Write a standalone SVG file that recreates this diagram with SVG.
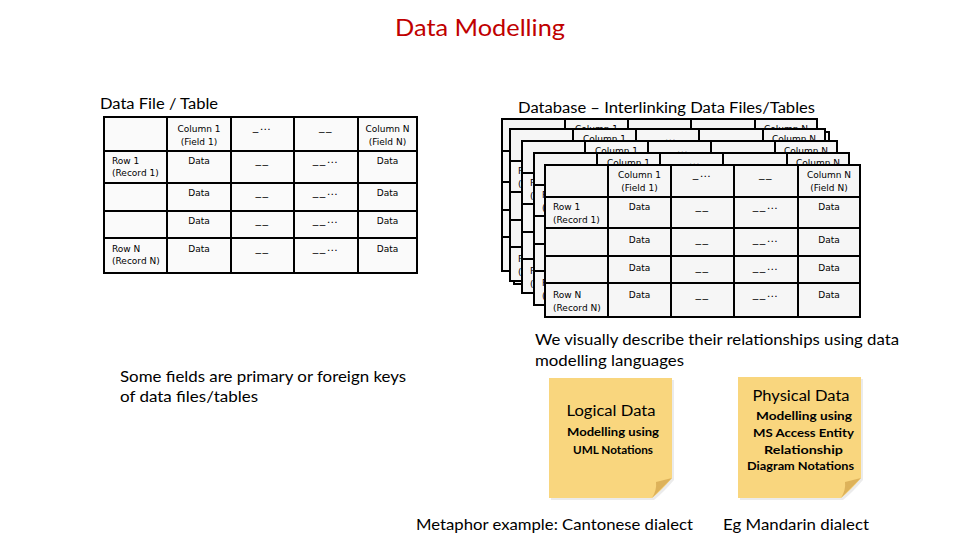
<svg xmlns="http://www.w3.org/2000/svg" xmlns:xlink="http://www.w3.org/1999/xlink" width="960" height="540" viewBox="0 0 960 540">
<style>
.t{font-family:Lato,"Liberation Sans",sans-serif;fill:#000}
.tt{font-family:"DejaVu Sans","Liberation Sans",sans-serif;font-size:9px;fill:#000}
.c{text-anchor:middle}
.u{letter-spacing:1.5px;font-size:11px}
.grid{fill:none;stroke:#000;stroke-width:2}
.nb{font-family:Lato,"Liberation Sans",sans-serif;font-weight:bold;font-size:12px;text-anchor:middle;fill:#000}
.nt{font-family:Lato,"Liberation Sans",sans-serif;font-size:14.5px;text-anchor:middle;fill:#000}
.note{fill:#F9D67E}
.fold{fill:#DDB25A}
.shadow{fill:#000;opacity:0.08}
</style>
<defs>
<g id="dbTable">
<rect x="0" y="0" width="315" height="152" fill="#F6F6F6" stroke="#000" stroke-width="2"/>
<path class="grid" d="M63,0V152M126,0V152M189,0V152M253,0V152M0,32H315M0,63H315M0,91H315M0,118H315"/>
<g class="tt c">
<text x="94.5" y="13">Column 1</text><text x="94.5" y="26">(Field 1)</text>
<text x="157.5" y="12" class="u">_…</text><text x="221" y="12" class="u">__</text>
<text x="284" y="13">Column N</text><text x="284" y="26">(Field N)</text>
<text x="94.5" y="45">Data</text><text x="157.5" y="44" class="u">__</text><text x="221" y="44" class="u">__…</text><text x="284" y="45">Data</text>
<text x="94.5" y="78">Data</text><text x="157.5" y="77" class="u">__</text><text x="221" y="77" class="u">__…</text><text x="284" y="78">Data</text>
<text x="94.5" y="106">Data</text><text x="157.5" y="105" class="u">__</text><text x="221" y="105" class="u">__…</text><text x="284" y="106">Data</text>
<text x="94.5" y="133">Data</text><text x="157.5" y="132" class="u">__</text><text x="221" y="132" class="u">__…</text><text x="284" y="133">Data</text>
</g>
<g class="tt">
<text x="8" y="45">Row 1</text><text x="8" y="58">(Record 1)</text>
<text x="8" y="133">Row N</text><text x="8" y="146">(Record N)</text>
</g>
</g>
</defs>

<text id="title" class="t c" x="480" y="36" font-size="24" style="fill:#C00000" textLength="170" lengthAdjust="spacingAndGlyphs">Data Modelling</text>

<text class="t" x="100" y="109" font-size="14.5" textLength="118" lengthAdjust="spacingAndGlyphs">Data File / Table</text>
<text class="t" x="518" y="113" font-size="14.5" textLength="297" lengthAdjust="spacingAndGlyphs">Database – Interlinking Data Files/Tables</text>

<g id="table-file">
<rect x="104" y="117" width="313" height="156" fill="#FAFAFA" stroke="#000" stroke-width="2"/>
<path class="grid" d="M167,117V273M231,117V273M294,117V273M358,117V273M104,151H417M104,183H417M104,211H417M104,238H417"/>
<g class="tt c">
<text x="199" y="132">Column 1</text><text x="199" y="145">(Field 1)</text>
<text x="262.5" y="130" class="u">_…</text><text x="326" y="130" class="u">__</text>
<text x="387.5" y="132">Column N</text><text x="387.5" y="145">(Field N)</text>
<text x="199" y="164">Data</text><text x="262.5" y="163" class="u">__</text><text x="326" y="163" class="u">__…</text><text x="387.5" y="164">Data</text>
<text x="199" y="196">Data</text><text x="262.5" y="195" class="u">__</text><text x="326" y="195" class="u">__…</text><text x="387.5" y="196">Data</text>
<text x="199" y="224">Data</text><text x="262.5" y="223" class="u">__</text><text x="326" y="223" class="u">__…</text><text x="387.5" y="224">Data</text>
<text x="199" y="252">Data</text><text x="262.5" y="251" class="u">__</text><text x="326" y="251" class="u">__…</text><text x="387.5" y="252">Data</text>
</g>
<g class="tt">
<text x="112" y="164">Row 1</text><text x="112" y="176">(Record 1)</text>
<text x="112" y="252">Row N</text><text x="112" y="264">(Record N)</text>
</g>
</g>

<g id="database-stack">
<g id="db-layer-1"><use xlink:href="#dbTable" href="#dbTable" x="502" y="119"/></g>
<g id="db-layer-2"><use xlink:href="#dbTable" href="#dbTable" x="514" y="132"/></g>
<g id="db-layer-3"><use xlink:href="#dbTable" href="#dbTable" x="510" y="129"/></g>
<g id="db-layer-4"><use xlink:href="#dbTable" href="#dbTable" x="522" y="141"/></g>
<g id="db-layer-5"><use xlink:href="#dbTable" href="#dbTable" x="534" y="153"/></g>
<g id="db-layer-front"><use xlink:href="#dbTable" href="#dbTable" x="545" y="165"/></g>
</g>

<g id="text-keys">
<text class="t" x="120" y="382" font-size="15" textLength="286" lengthAdjust="spacingAndGlyphs">Some fields are primary or foreign keys</text>
<text class="t" x="120" y="402" font-size="15" textLength="138" lengthAdjust="spacingAndGlyphs">of data files/tables</text>
</g>

<g id="text-describe">
<text class="t" x="535" y="345" font-size="15" textLength="364" lengthAdjust="spacingAndGlyphs">We visually describe their relationships using data</text>
<text class="t" x="535" y="366" font-size="15" textLength="149" lengthAdjust="spacingAndGlyphs">modelling languages</text>
</g>

<g id="note-logical">
<path class="shadow" d="M551,380H674V480Q664,492 654,500H551Z"/>
<path class="note" d="M549,378H672V478Q662,490 652,498H549Z"/>
<path class="fold" d="M672,478L656,482Q657,490 652,498Z"/>
<text class="nt" x="611" y="416" textLength="89" lengthAdjust="spacingAndGlyphs">Logical Data</text>
<text class="nb" x="613" y="436" textLength="92" lengthAdjust="spacingAndGlyphs">Modelling using</text>
<text class="nb" x="613" y="454" textLength="80" lengthAdjust="spacingAndGlyphs">UML Notations</text>
</g>

<g id="note-physical">
<path class="shadow" d="M740,379H863V480Q853,492 843,500H740Z"/>
<path class="note" d="M738,377H861V478Q851,490 841,498H738Z"/>
<path class="fold" d="M861,478L845,482Q846,490 841,498Z"/>
<text class="nt" x="801" y="401" textLength="97" lengthAdjust="spacingAndGlyphs">Physical Data</text>
<text class="nb" x="804" y="420" textLength="96" lengthAdjust="spacingAndGlyphs">Modelling using</text>
<text class="nb" x="803.5" y="437" textLength="101" lengthAdjust="spacingAndGlyphs">MS Access Entity</text>
<text class="nb" x="803.5" y="454" textLength="79" lengthAdjust="spacingAndGlyphs">Relationship</text>
<text class="nb" x="800.5" y="470" textLength="107" lengthAdjust="spacingAndGlyphs">Diagram Notations</text>
</g>

<g id="text-metaphor">
<text class="t" x="416" y="530" font-size="15" textLength="277" lengthAdjust="spacingAndGlyphs">Metaphor example: Cantonese dialect</text>
<text class="t" x="723" y="530" font-size="15" textLength="146" lengthAdjust="spacingAndGlyphs">Eg Mandarin dialect</text>
</g>
</svg>
